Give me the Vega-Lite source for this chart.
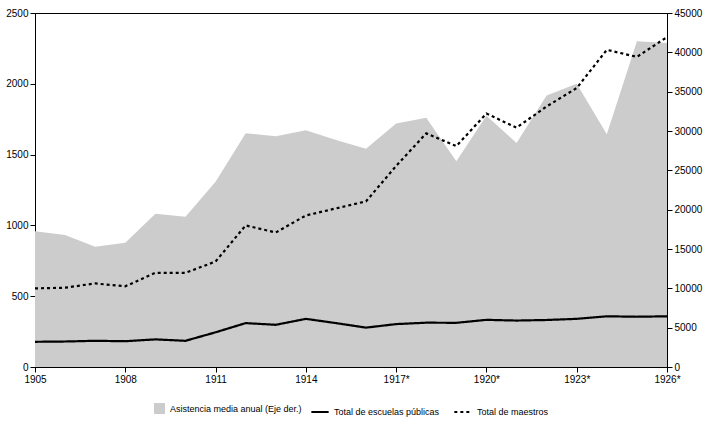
{
"$schema":"https://vega.github.io/schema/vega-lite/v6.json",
"width":707,"height":422,
"autosize":{"type":"fit","contains":"padding"},
"padding":{"left":5,"right":5,"top":8,"bottom":5},
"config":{"font":"Liberation Sans","view":{"stroke":"#000"},"legend":{"layout":{"bottom":{"anchor":"middle"}}},"axis":{"grid":false,"labelFontSize":10,"labelColor":"#000","domainColor":"#000","tickColor":"#000","labelOverlap":false}},
"data":{"values":[
{"year":1905,"asis":17260,"esc":178,"mae":555},
{"year":1906,"asis":16770,"esc":180,"mae":560},
{"year":1907,"asis":15290,"esc":185,"mae":590},
{"year":1908,"asis":15780,"esc":182,"mae":570},
{"year":1909,"asis":19480,"esc":195,"mae":665},
{"year":1910,"asis":19110,"esc":185,"mae":665},
{"year":1911,"asis":23550,"esc":245,"mae":745},
{"year":1912,"asis":29710,"esc":310,"mae":1000},
{"year":1913,"asis":29340,"esc":298,"mae":950},
{"year":1914,"asis":30080,"esc":340,"mae":1070},
{"year":1915,"asis":28850,"esc":310,"mae":1120},
{"year":1916,"asis":27740,"esc":278,"mae":1170},
{"year":1917,"asis":30950,"esc":303,"mae":1420},
{"year":1918,"asis":31690,"esc":313,"mae":1650},
{"year":1919,"asis":26140,"esc":312,"mae":1560},
{"year":1920,"asis":31930,"esc":333,"mae":1790},
{"year":1921,"asis":28480,"esc":328,"mae":1690},
{"year":1922,"asis":34520,"esc":332,"mae":1840},
{"year":1923,"asis":36000,"esc":340,"mae":1970},
{"year":1924,"asis":29590,"esc":358,"mae":2240},
{"year":1925,"asis":41420,"esc":355,"mae":2190},
{"year":1926,"asis":41180,"esc":358,"mae":2330}
]},
"encoding":{"x":{"field":"year","type":"quantitative","title":null,"scale":{"domain":[1905,1926],"nice":false,"zero":false},
"axis":{"values":[1905,1908,1911,1914,1917,1920,1923,1926],"labelExpr":"datum.value>=1917 ? datum.value+'*' : ''+datum.value","labelFlush":false}}},
"layer":[
{"mark":{"type":"area"},
"encoding":{"y":{"field":"asis","type":"quantitative","title":null,"scale":{"domain":[0,45000]},"axis":{"orient":"right","values":[0,5000,10000,15000,20000,25000,30000,35000,40000,45000],"format":"d"}},
"fill":{"datum":"Asistencia media anual (Eje der.)","type":"nominal","scale":{"range":["#cccccc"]},"legend":{"orient":"bottom","title":null,"symbolType":"square","labelFontSize":9,"symbolSize":120,"zindex":1}}}},
{"transform":[{"fold":["esc","mae"],"as":["k","v"]},{"lookup":"k","from":{"data":{"values":[{"k":"esc","n":"Total de escuelas públicas"},{"k":"mae","n":"Total de maestros"}]},"key":"k","fields":["n"]}}],
"mark":{"type":"line","color":"#000","strokeWidth":2.2},
"encoding":{"y":{"field":"v","type":"quantitative","title":null,"scale":{"domain":[0,2500]},"axis":{"orient":"left","values":[0,500,1000,1500,2000,2500],"format":"d"}},
"strokeDash":{"field":"n","type":"nominal","scale":{"domain":["Total de escuelas públicas","Total de maestros"],"range":[[1,0],[3,3]]},"legend":{"orient":"bottom","title":null,"direction":"horizontal","labelFontSize":9,"symbolStrokeColor":"#000","symbolStrokeWidth":2,"symbolSize":300,"zindex":0}}}}
],
"resolve":{"scale":{"y":"independent"}}
}
